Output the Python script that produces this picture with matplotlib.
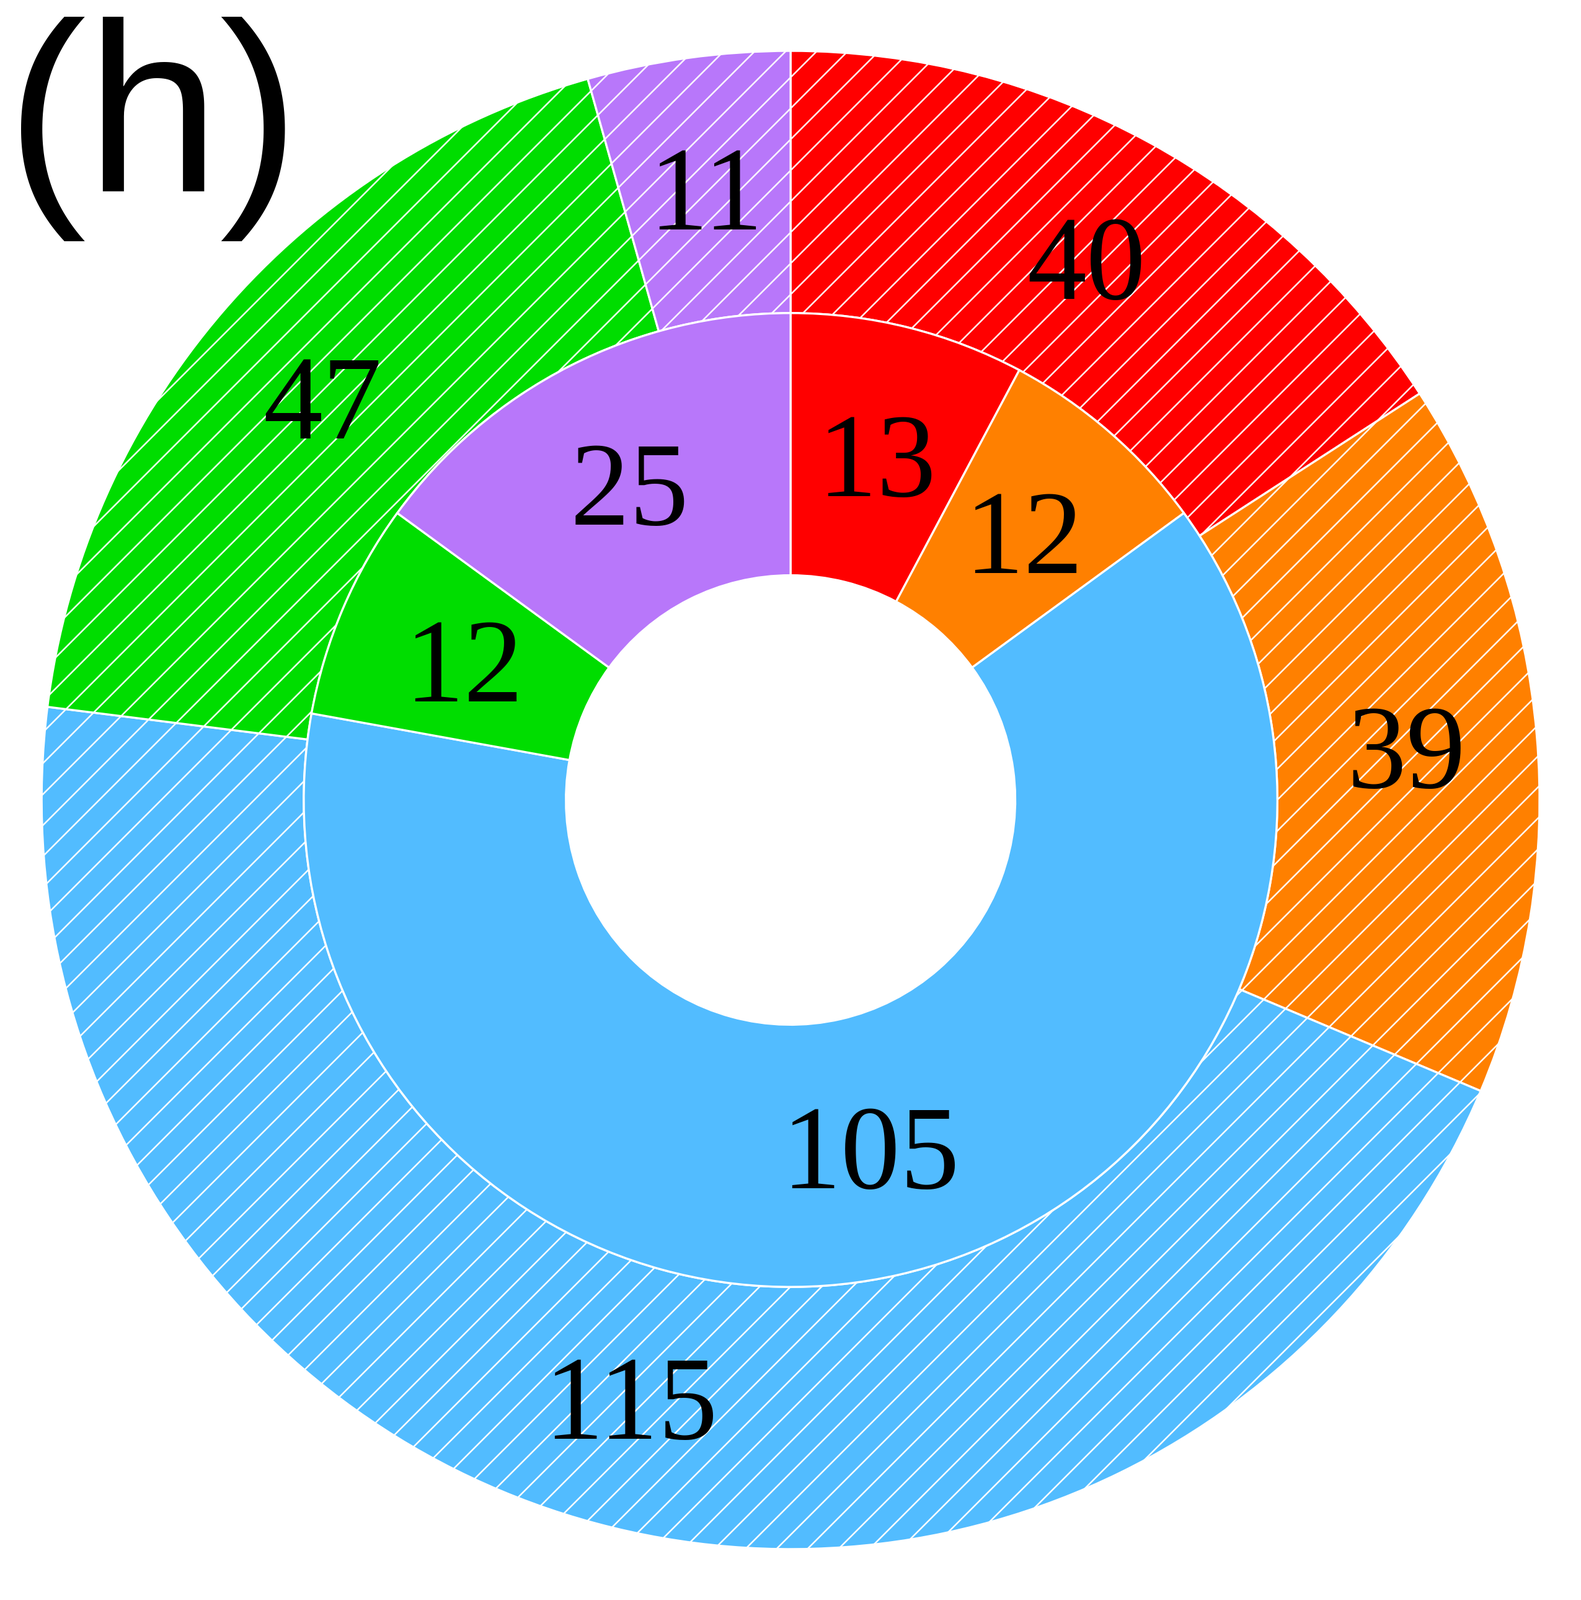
import matplotlib
matplotlib.use("Agg")
import matplotlib.pyplot as plt

# outer ring (hatched) and inner ring (solid), clockwise from the top
outer_vals = [40, 39, 115, 47, 11]
inner_vals = [13, 12, 105, 12, 25]
colors = ['#FF0000', '#FF8000', '#52BCFF', '#00DD00', '#B877FA']

plt.rcParams['hatch.linewidth'] = 0.6

fig = plt.figure(figsize=(8.5, 8.6), dpi=300)
ax = fig.add_axes([0.0263, 0.0318, 0.9475, 0.9364])

def fmt(vals):
    tot = sum(vals)
    return lambda p: '%d' % round(p * tot / 100.0)

w_out, _, t_out = ax.pie(outer_vals, colors=colors, radius=1.0, startangle=90,
                         counterclock=False, autopct=fmt(outer_vals), pctdistance=0.825,
                         wedgeprops=dict(width=0.35, edgecolor='white', linewidth=0.8))
for w in w_out:
    w.set_hatch('//')

w_in, _, t_in = ax.pie(inner_vals, colors=colors, radius=0.65, startangle=90,
                       counterclock=False, autopct=fmt(inner_vals), pctdistance=0.475 / 0.65,
                       wedgeprops=dict(width=0.35, edgecolor='white', linewidth=0.8))

for t in t_out + t_in:
    t.set_fontfamily('Liberation Serif')
    t.set_fontsize(46)
    t.set_color('black')
    t.set_va('center_baseline')

ax.set_xlim(-1.0, 1.0)
ax.set_ylim(-1.0, 1.0)
ax.set_aspect('equal')
ax.axis('off')

fig.text(0.004, 0.8806, '(h)', fontsize=93, family='Liberation Sans',
         ha='left', va='baseline')

fig.savefig('out.png', dpi=300)
